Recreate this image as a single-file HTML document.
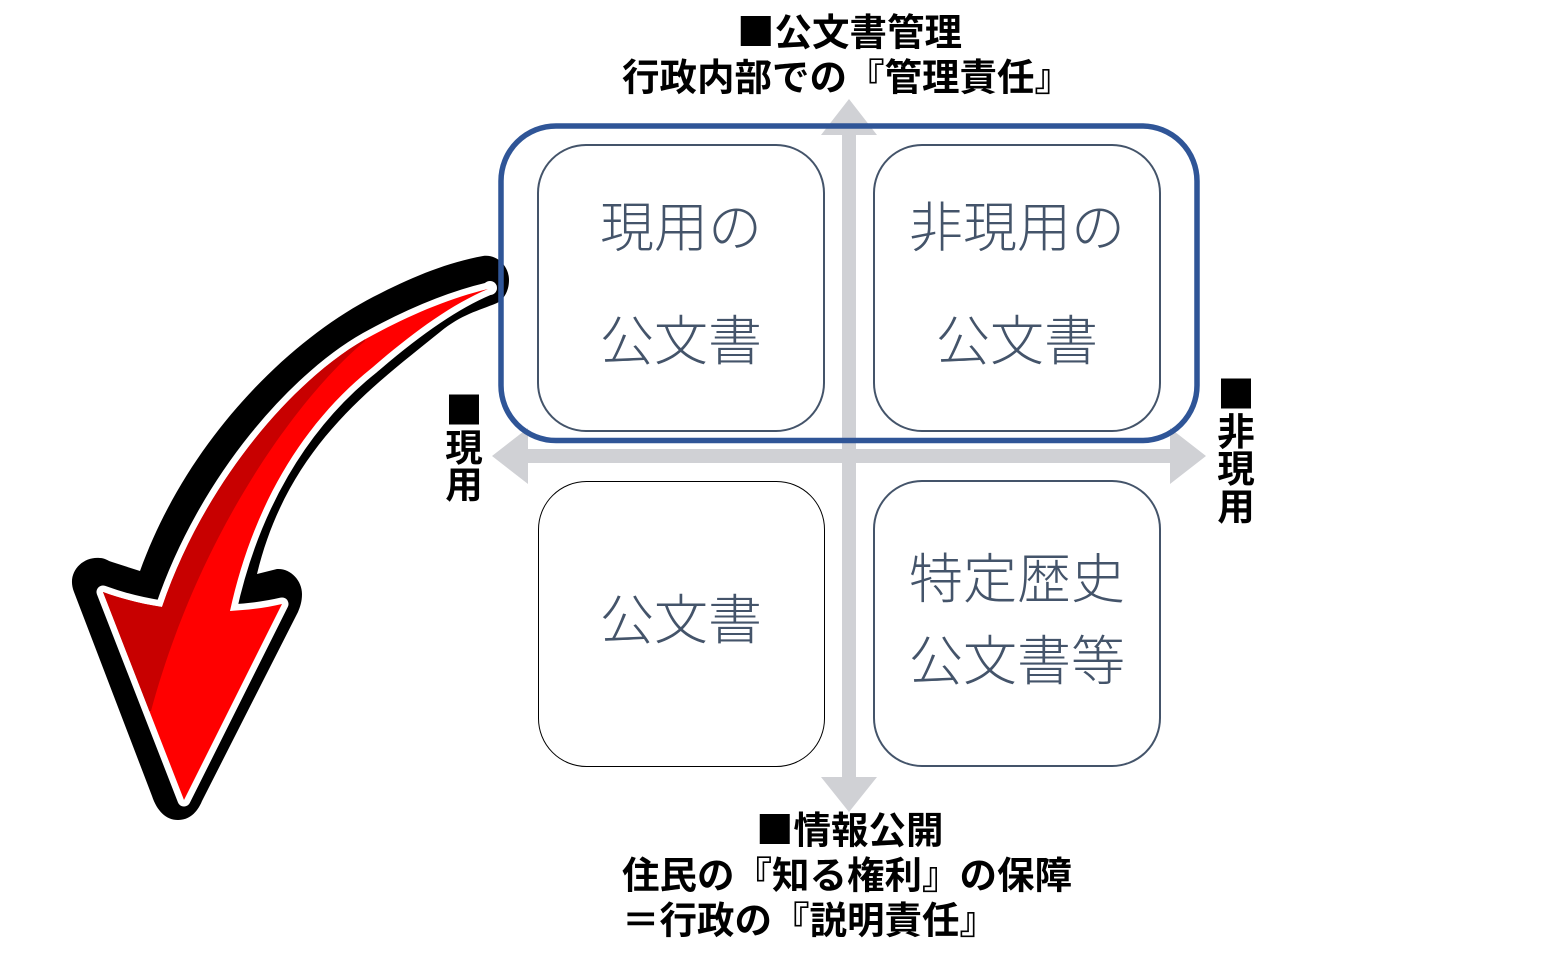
<!DOCTYPE html>
<html lang="ja"><head><meta charset="utf-8"><style>
html,body{margin:0;padding:0;background:#fff}
svg{display:block}
text{font-family:"Noto Sans CJK JP",sans-serif}
.b{font-size:37.500px;font-weight:700;fill:#000}
.l{font-size:54px;font-weight:300;fill:#44546a;text-anchor:middle}
.v{font-size:37.500px;font-weight:700;fill:#000;text-anchor:middle}
</style></head><body>
<svg width="1550" height="967" viewBox="0 0 1550 967" xmlns="http://www.w3.org/2000/svg">
<defs>
<clipPath id="rc"><path d="M488,289 C450,298 410,315 373,335 C298,374 205,480 162,607 C142,604 122,599 103,592 L184,800 L282,604 C265,608 248,610 230,611 C252,510 300,425 373,367 C410,335 450,305 488,289 Z"/></clipPath>
</defs>
<rect width="1550" height="967" fill="#fff"/>
<g fill="#d0d1d5">
<polygon points="849,99 877,135 856,135 856,777 877,777 849,812 821,777 842,777 842,135 821,135"/>
<polygon points="492,456 528,428 528,449 1170,449 1170,428 1206,456 1170,484 1170,463 528,463 528,484"/>
</g>
<!-- black outline -->
<path d="M483,256 C497,254 509,266 509,280 C509,292 503,300 497,303 C478,311 462,314 440,332 C375,385 288,445 257,574 L277,569 C290,568 302,580 302,594 C302,602 300,607 298,612 L202,801 C197,813 189,820 178,820 C166,820 157,811 152,796 L74,592 C66,572 83,556 100,558 C105,558 108,561 112,562 L140,571 C188,438 290,340 373,297 C410,278 445,263 483,256 Z" fill="#000"/>
<!-- white outline + red body -->
<circle cx="490" cy="288" r="7" fill="#fff"/>
<path d="M488,289 C450,298 410,315 373,335 C298,374 205,480 162,607 C142,604 122,599 103,592 L184,800 L282,604 C265,608 248,610 230,611 C252,510 300,425 373,367 C410,335 450,305 488,289 Z" fill="#fff" stroke="#fff" stroke-width="13" stroke-linejoin="round"/>
<path d="M488,289 C450,298 410,315 373,335 C298,374 205,480 162,607 C142,604 122,599 103,592 L184,800 L282,604 C265,608 248,610 230,611 C252,510 300,425 373,367 C410,335 450,305 488,289 Z" fill="#f00"/>
<path d="M365,341 C300,395 200,530 151,711 L60,711 L60,300 L365,300 Z" fill="#c80000" clip-path="url(#rc)"/>
<!-- boxes -->
<g fill="#fff" stroke="#44546a" stroke-width="2">
<rect x="538" y="145" width="286" height="286" rx="48"/>
<rect x="874" y="145" width="286" height="286" rx="48"/>
<rect x="874" y="481" width="286" height="285" rx="48"/>
</g>
<rect x="538.500" y="481.500" width="286" height="285" rx="48" fill="#fff" stroke="#000" stroke-width="1"/>
<!-- blue frame -->
<rect x="501" y="126" width="696" height="314.500" rx="55" fill="none" stroke="#2f5597" stroke-width="5.500"/>
<!-- box text -->
<text class="l" x="681" y="246.500">現用の</text>
<text class="l" x="681" y="360">公文書</text>
<text class="l" x="1017" y="246.500">非現用の</text>
<text class="l" x="1017" y="360">公文書</text>
<text class="l" x="681" y="639">公文書</text>
<text class="l" x="1017" y="598">特定歴史</text>
<text class="l" x="1017" y="680">公文書等</text>
<!-- headings -->
<text class="b" x="737" y="45.500">■公文書管理</text>
<text class="b" x="622" y="90.500">行政内部での『管理責任』</text>
<text class="b" x="756" y="843.500">■情報公開</text>
<text class="b" x="622" y="888.500">住民の『知る権利』の保障</text>
<text class="b" x="622" y="933.500">＝行政の『説明責任』</text>
<!-- vertical labels -->
<text class="v" x="464" y="424">■</text>
<text class="v" x="464" y="461">現</text>
<text class="v" x="464" y="498">用</text>
<text class="v" x="1236" y="408">■</text>
<text class="v" x="1236" y="445">非</text>
<text class="v" x="1236" y="482">現</text>
<text class="v" x="1236" y="520">用</text>
</svg>
</body></html>
